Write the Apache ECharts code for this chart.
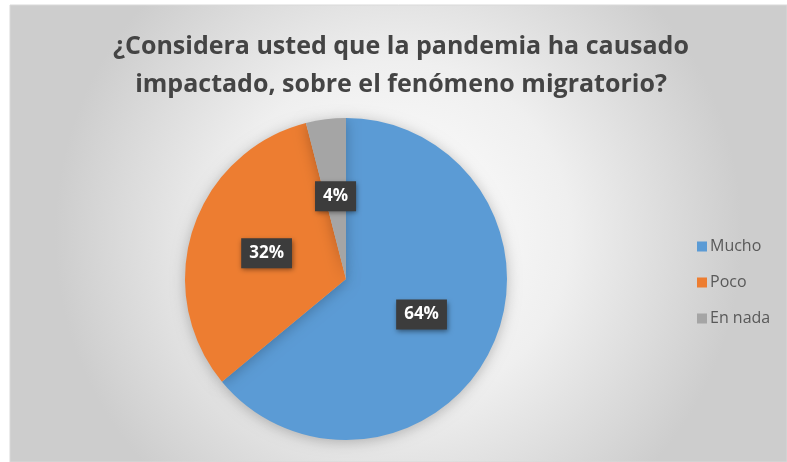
<!DOCTYPE html>
<html><head><meta charset="utf-8">
<script src="https://cdn.jsdelivr.net/npm/echarts@6/dist/echarts.min.js"></script>
<style>html,body{margin:0;padding:0;background:#fff;}#c{width:787px;height:462px;}</style>
</head><body><div id="c"></div>
<script>
const titleText = "¿Considera usted que la pandemia ha causado\nimpactado, sobre el fenómeno migratorio?";
const categories = ["Mucho", "Poco", "En nada"];
const values = [64, 32, 4];
const colors = ["#5B9BD5", "#ED7D31", "#A5A5A5"];

const chart = echarts.init(document.getElementById('c'));
chart.setOption({
  animation: false,
  graphic: [{
    type: 'rect', z: -10, silent: true,
    shape: {x: 10, y: 5, width: 777, height: 457},
    style: {
      fill: new echarts.graphic.RadialGradient(0.5, 0.5, 0.75, [
        {offset: 0, color: '#ffffff'},
        {offset: 0.5, color: '#efefef'},
        {offset: 1, color: '#cdcdcd'}
      ]),
      stroke: '#d9d9d9', lineWidth: 1
    }
  }],
  title: {
    text: titleText,
    left: 396, top: 23, textAlign: 'center',
    textStyle: {fontFamily: 'Open Sans', fontSize: 25, fontWeight: 'bold', color: '#444444', lineHeight: 38}
  },
  legend: {
    orient: 'vertical', left: 692, top: 231,
    itemWidth: 10, itemHeight: 10, itemGap: 15, icon: 'rect',
    textStyle: {fontFamily: 'Open Sans', fontSize: 16, color: '#595959', padding: [0,0,0,-2], lineHeight: 21},
    data: categories
  },
  series: [{
    type: 'pie',
    center: [346, 279], radius: 161,
    startAngle: 90, clockwise: true,
    data: categories.map((n, i) => ({name: n, value: values[i], itemStyle: {color: colors[i]}})),
    itemStyle: {shadowBlur: 14, shadowColor: 'rgba(0,0,0,0.25)', shadowOffsetY: 2},
    label: {
      position: 'inside',
      formatter: p => p.value + '%',
      fontFamily: 'Open Sans', fontSize: 17, fontWeight: 'bold', color: '#ffffff',
      backgroundColor: '#3c3c3c', padding: [8, 8, 5, 8],
      shadowBlur: 5, shadowColor: 'rgba(0,0,0,0.45)', shadowOffsetX: 1, shadowOffsetY: 2
    },
    labelLine: {show: false},
    emphasis: {disabled: true}
  }]
});
</script></body></html>
